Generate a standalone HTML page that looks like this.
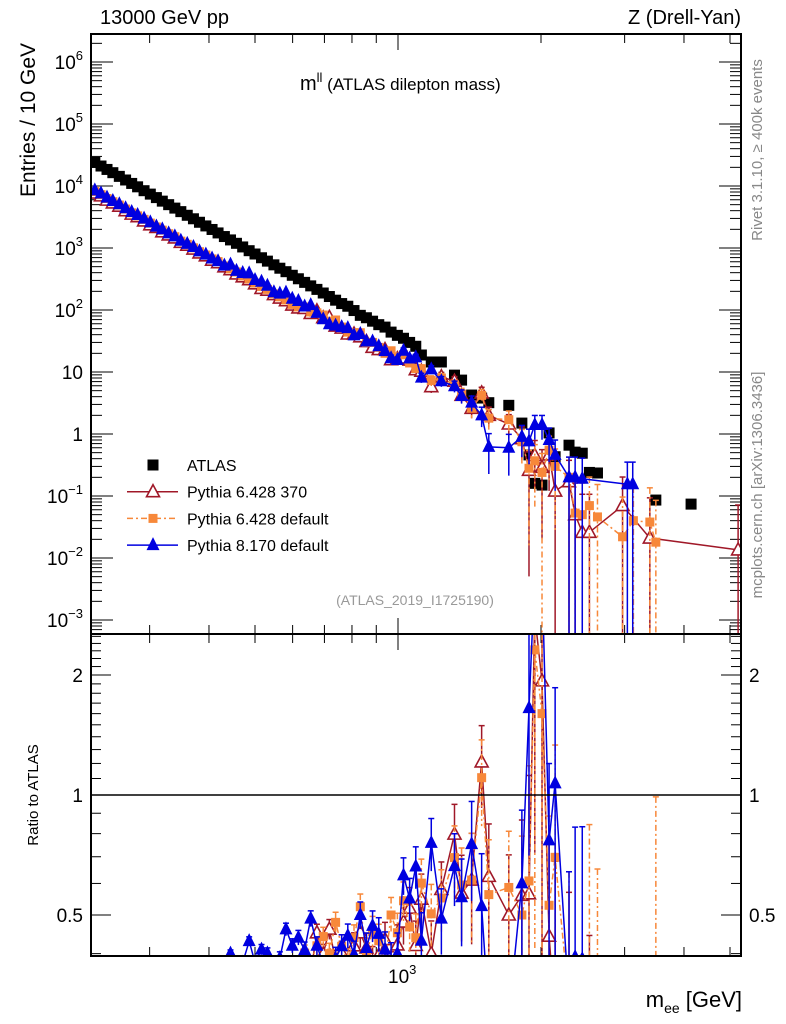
<!DOCTYPE html>
<html><head><meta charset="utf-8"><style>
html,body{margin:0;padding:0;background:#fff;width:786px;height:1024px;overflow:hidden;}
svg{display:block;font-family:"Liberation Sans",sans-serif;overflow:hidden;}
</style></head><body>
<svg id="chart" width="786" height="1024" viewBox="0 0 786 1024">
<defs>
<clipPath id="clipTop"><rect x="91" y="34" width="650" height="600"/></clipPath>
<clipPath id="clipBot"><rect x="91" y="634" width="650" height="322"/></clipPath>
</defs>
<text x="100" y="24" font-size="20">13000 GeV pp</text>
<text x="741" y="24" font-size="20" text-anchor="end">Z (Drell-Yan)</text>
<text x="300" y="90" font-size="20">m<tspan font-size="13" dy="-8">ll</tspan><tspan dy="8" font-size="17"> (ATLAS dilepton mass)</tspan></text>
<text transform="translate(35,120) rotate(-90)" font-size="21" text-anchor="middle">Entries / 10 GeV</text>
<text transform="translate(38,795) rotate(-90)" font-size="15" text-anchor="middle">Ratio to ATLAS</text>
<text x="742" y="1007" font-size="22" text-anchor="end">m<tspan font-size="14" dy="6">ee</tspan><tspan dy="-6"> [GeV]</tspan></text>
<text transform="translate(762,150) rotate(-90)" font-size="15" fill="#888" text-anchor="middle">Rivet 3.1.10, ≥ 400k events</text>
<text transform="translate(762,485) rotate(-90)" font-size="15" fill="#888" text-anchor="middle">mcplots.cern.ch [arXiv:1306.3436]</text>
<text x="415" y="605" font-size="14" fill="#999" text-anchor="middle">(ATLAS_2019_I1725190)</text>
<g id="axes"></g>
<g id="topData" clip-path="url(#clipTop)"></g>
<g id="botData" clip-path="url(#clipBot)"></g>
<g id="legend"></g>
<rect x="91" y="34" width="650" height="600" fill="none" stroke="#000" stroke-width="2"/>
<rect x="91" y="634" width="650" height="322" fill="none" stroke="#000" stroke-width="2"/>
<line x1="91" y1="795" x2="741" y2="795" stroke="#000" stroke-width="1.5"/>
</svg>
<script>
const masses = [230,237,244,251,259,267,275,283,292,301,310,319,329,339,349,360,371,382,394,406,418,431,444,457,471,486,500,516,531,548,564,581,599,617,636,655,675,696,717,739,761,784,808,833,858,884,911,939,967,997,1027,1058,1090,
1120,1175,1234,1315,1361,1429,1500,1553,1711,1823,1887,1941,2010,2080,2142,2291,2360,2443,2529,2630,3490,4140];
const atlasValues = [24000,21000,18500,16400,14300,12500,11000,9700,8400,7400,6500,5700,5000,4400,3860,3370,2960,2600,2270,1990,1750,1530,1350,1190,1040,905,800,696,614,535,472,415,363,319,279,245,215,188,165,144,127,115,98,82,75,66,58,53,44,39,35,30,26,
18.8,14.5,14.5,8.9,7.4,4.25,3.8,3.2,2.9,1.5,0.46,0.16,0.15,1.04,0.43,0.66,0.51,0.49,0.24,0.235,0.086,0.074];
const py6370Values = [7680,6930,5920,5330,4720,4000,3520,3200,2730,2370,2145,1824,1625,1452,1235,1112,962,832,749,637,578,497,446,381,343,308,264,223,209,177,156,141,120,108,106,88,97,75,76,55,51,41,41,37,31,25,23,23,15.8,16.4,16.8,15.6,10.9,
10.3,5.8,8.4,7.1,4.2,2.6,4.6,2.0,1.45,0.84,0.26,0.45,0.29,0.46,0.12,0.17,0.05,0.026,0.026,null,null,null];
const py6defValues = [8160,7250,6290,5580,4930,4250,3690,3300,2900,2520,2180,1940,1700,1520,1290,1146,1006,871,772,667,604,513,459,411,354,317,272,240,215,182,163,145,123,112,112,93,90,83,66,69,53,44,43,43,30,30,25,20,22,17.6,19,14,11.4,
11.3,7.3,8.0,6.2,4.4,2.6,4.2,1.8,1.7,0.75,0.28,0.37,0.24,0.55,0.3,0.2,0.053,0.05,0.07,0.046,0.018,null];
const py8Values = [8520,7560,6480,5740,5080,4380,3800,3400,2980,2590,2210,2000,1725,1540,1312,1163,1036,884,783,677,612,520,540,428,395,389,304,285,246,193,184,191,152,140,114,120,90,71,59,56,53,51,39,41,31,31,26,21.7,16.7,15.6,22,16.5,17.2,
8.1,11,7.1,5.9,4.1,3.2,2.0,0.62,0.6,0.9,0.76,1.4,1.4,0.8,0.46,0.2,0.2,0.19,null,null,null,null];
const py6370ExtraMasses = [2970,3390,5200];
const py6370ExtraValues = [0.07,0.021,0.0135];
const py6defExtraMasses = [2970,3130,3390];
const py6defExtraValues = [0.022,0.04,0.038];
const py8ExtraMasses = [3040,3120];
const py8ExtraValues = [0.155,0.155];
const yTickExps = [6,5,4,3,2,1,0,-1,-2,-3];
const yTickLabels = ["10^6","10^5","10^4","10^3","10^2","10","1","10^-1","10^-2","10^-3"];
const ratioTicks = [2,1,0.5];
const ratioTickLabels = ["2","1","0.5"];

const NS="http://www.w3.org/2000/svg";
const X0=91,X1=741,TY0=34,TY1=634,BY0=634,BY1=956;
function xs(m){return 398+475*(Math.log10(m)-3);}
function ys(v){return 434-62*Math.log10(v);}
function yr(r){return 795-120*Math.log2(r);}
function mk(tag,attrs,parent){const e=document.createElementNS(NS,tag);for(const k in attrs)e.setAttribute(k,attrs[k]);parent.appendChild(e);return e;}
const axes=document.getElementById('axes');
const topG=document.getElementById('topData');
const botG=document.getElementById('botData');
const legG=document.getElementById('legend');

for(let d=-4;d<=6;d++){
  for(let k=1;k<10;k++){
    const v=k*Math.pow(10,d);const y=ys(v);
    if(y<TY0||y>TY1)continue;
    const L=k===1?22:11;
    let t=mk('line',{x1:X0,y1:y,x2:X0+L,y2:y,stroke:'#000','stroke-width':1},axes);
    
    
    t=mk('line',{x1:X1,y1:y,x2:X1-L,y2:y,stroke:'#000','stroke-width':1},axes);
    
    
  }
}
yTickExps.forEach((e,i)=>{
  const y=ys(Math.pow(10,e));const lab=yTickLabels[i];
  const t=mk('text',{x:X0-8,y:y+7,'font-size':19,'text-anchor':'end'},axes);
  
  
  if(lab.indexOf('^')>=0){const p=lab.split('^');t.textContent=p[0];const s=mk('tspan',{'font-size':13,dy:-9},t);s.textContent=p[1].replace('-','\u2212');}
  else t.textContent=lab;
});
const rminor=[0.4,0.5,0.6,0.7,0.8,0.9,1,1.1,1.2,1.3,1.4,1.5,1.6,1.7,1.8,1.9,2,2.1,2.2,2.3,2.4,2.5];
rminor.forEach(r=>{const y=yr(r);if(y<BY0||y>BY1)return;const L=(r===0.5||r===1||r===2)?20:10;
  let t=mk('line',{x1:X0,y1:y,x2:X0+L,y2:y,stroke:'#000','stroke-width':1},axes);
  
  
  t=mk('line',{x1:X1,y1:y,x2:X1-L,y2:y,stroke:'#000','stroke-width':1},axes);
  
  });
ratioTicks.forEach((r,i)=>{const y=yr(r);
  let t=mk('text',{x:X0-8,y:y+7,'font-size':19,'text-anchor':'end'},axes);t.textContent=ratioTickLabels[i];
  
  
  t=mk('text',{x:X1+8,y:y+7,'font-size':19,'text-anchor':'start'},axes);t.textContent=ratioTickLabels[i];
  
  });
[300,400,500,600,700,800,900,1000,2000,3000,4000,5000].forEach(m=>{const x=xs(m);const L=m===1000?16:9;
  [[TY0,1],[TY1,-1],[BY0,1],[BY1,-1]].forEach(([y,s])=>{
    const t=mk('line',{x1:x,y1:y,x2:x,y2:y+s*L,stroke:'#000','stroke-width':1},axes);
    
    });});
{const t=mk('text',{x:xs(1000)-10,y:983,'font-size':19},axes);t.textContent='10';
 
 
 const s=mk('tspan',{'font-size':13,dy:-9},t);s.textContent='3';}

function marker(parent,kind,x,y,name){
  let e;
  if(kind==='sq') e=mk('rect',{x:x-5.5,y:y-5.5,width:11,height:11,fill:'#000'},parent);
  else if(kind==='osq') e=mk('rect',{x:x-4.5,y:y-4.5,width:9,height:9,fill:'#f7883a'},parent);
  else if(kind==='otri') e=mk('path',{d:`M${x},${y-7} L${x+6.5},${y+5} L${x-6.5},${y+5} Z`,fill:'#fff',stroke:'#a01828','stroke-width':1.6},parent);
  else e=mk('path',{d:`M${x},${y-8} L${x+6.5},${y+5} L${x-6.5},${y+5} Z`,fill:'#0000e0'},parent);
  
  
}
function relErr(v){return 0.5/Math.sqrt(v);}
function clampY(y,lo,hi){return Math.max(lo,Math.min(hi,y));}
function drawSeries(g,ms,vals,scaleY,color,dash,kind,name,refVals,extraM,extraV,yMin,yMax){
  const pts=[];
  ms.forEach((m,i)=>{let v=vals[i];if(v==null)return;
    if(refVals){v=v/refVals[i];}
    pts.push([m,v,vals[i]]);});
  if(!refVals&&extraM){extraM.forEach((m,i)=>pts.push([m,extraV[i],extraV[i]]));}
  pts.sort((a,b)=>a[0]-b[0]);
  const d=pts.map((p,i)=>(i?'L':'M')+xs(p[0]).toFixed(1)+','+clampY(scaleY(p[1]),yMin-60,yMax+60).toFixed(1)).join(' ');
  const path=mk('path',{d:d,fill:'none',stroke:color,'stroke-width':1.5},g);
  if(dash)path.setAttribute('stroke-dasharray',dash);
  
  
  pts.forEach(p=>{const x=xs(p[0]);const e=relErr(p[2]);
    const hi=clampY(scaleY(p[1]*(1+e)),yMin,yMax);const lo=(e>=1)?yMax:clampY(scaleY(p[1]*(1-e)),yMin,yMax);
    if(lo-hi>4){const b=mk('line',{x1:x,y1:hi,x2:x,y2:lo,stroke:color,'stroke-width':1.5},g);
      if(dash)b.setAttribute('stroke-dasharray',dash);
      
      
      const c=mk('line',{x1:x-3,y1:hi,x2:x+3,y2:hi,stroke:color,'stroke-width':1.5},g);
      
      }
    const my=scaleY(p[1]);
    if(my>yMin-10&&my<yMax+10) marker(g,kind,x,my,name+'-point');});
}
masses.forEach((m,i)=>{marker(topG,'sq',xs(m),ys(atlasValues[i]),'atlas-point');});
drawSeries(topG,masses,py6370Values,ys,'#a01828',null,'otri','pythia6-370',null,py6370ExtraMasses,py6370ExtraValues,TY0,TY1);
drawSeries(topG,masses,py6defValues,ys,'#f7883a','6,3,2,3','osq','pythia6-default',null,py6defExtraMasses,py6defExtraValues,TY0,TY1);
drawSeries(topG,masses,py8Values,ys,'#0000e0',null,'tri','pythia8-default',null,py8ExtraMasses,py8ExtraValues,TY0,TY1);
drawSeries(botG,masses,py6370Values,yr,'#a01828',null,'otri','ratio-pythia6-370',atlasValues,null,null,BY0,BY1);
drawSeries(botG,masses,py6defValues,yr,'#f7883a','6,3,2,3','osq','ratio-pythia6-default',atlasValues,null,null,BY0,BY1);
drawSeries(botG,masses,py8Values,yr,'#0000e0',null,'tri','ratio-pythia8-default',atlasValues,null,null,BY0,BY1);

const legItems=[['ATLAS','sq',null,null,'legend-atlas'],['Pythia 6.428 370','otri','#a01828',null,'legend-pythia6-370'],['Pythia 6.428 default','osq','#f7883a','6,3,2,3','legend-pythia6-default'],['Pythia 8.170 default','tri','#0000e0',null,'legend-pythia8-default']];
legItems.forEach((it,i)=>{const y=465+i*26.7;
  const g=mk('g',{},legG);
  
  
  if(it[2]){const l=mk('line',{x1:127,y1:y,x2:178,y2:y,stroke:it[2],'stroke-width':1.5},g);if(it[3])l.setAttribute('stroke-dasharray',it[3]);
    
    }
  marker(g,it[1],153,y,'legend-marker');
  const t=mk('text',{x:187,y:y+6,'font-size':16},g);t.textContent=it[0];
  
  
});
</script>
</body></html>
